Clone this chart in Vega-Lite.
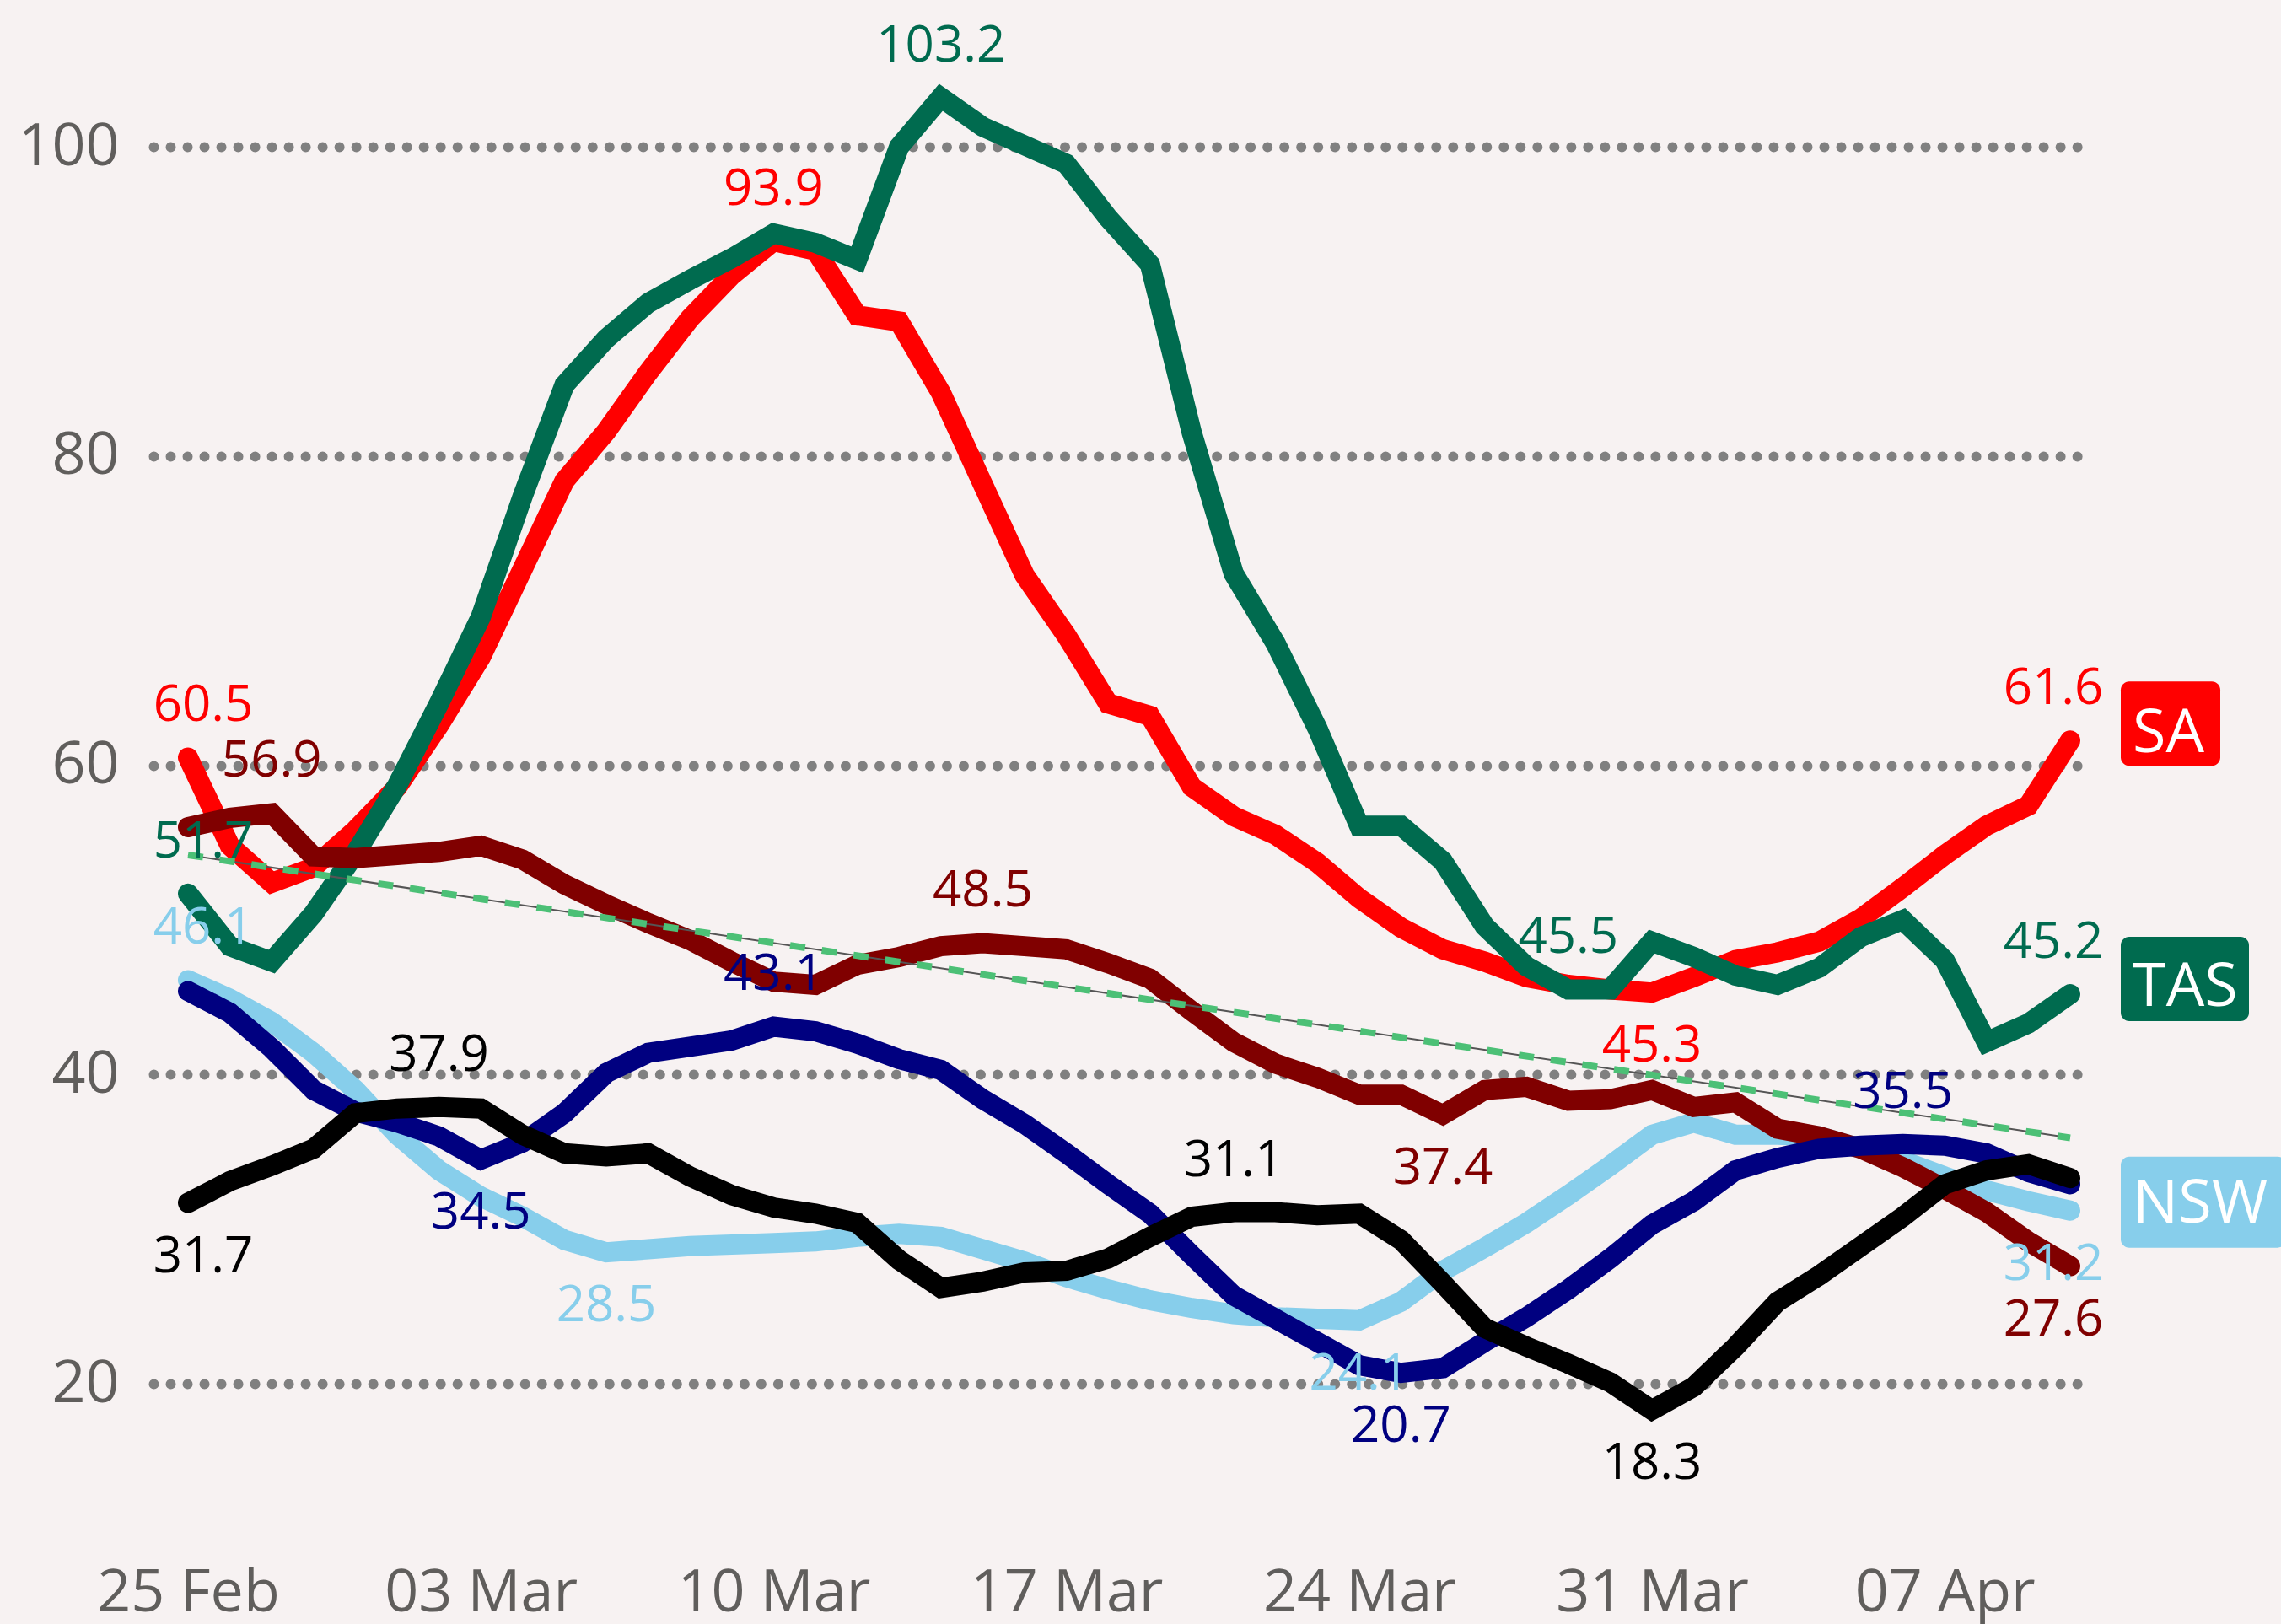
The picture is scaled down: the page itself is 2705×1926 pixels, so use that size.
{
  "$schema": "https://vega.github.io/schema/vega-lite/v6.json",
  "width": 2301,
  "height": 1760,
  "autosize": "none",
  "padding": {"left": 182, "top": 40, "right": 222, "bottom": 126},
  "background": "#F7F2F2",
  "config": {"view": {"stroke": null}, "font": "Open Sans", "text": {"font": "Open Sans"}},
  "datasets": {
    "series": [
      {"s":"SA","d":"2024-02-25","v":60.5},{"s":"SA","d":"2024-02-26","v":54.8},{"s":"SA","d":"2024-02-27","v":52.4},{"s":"SA","d":"2024-02-28","v":53.4},{"s":"SA","d":"2024-02-29","v":55.8},{"s":"SA","d":"2024-03-01","v":58.6},{"s":"SA","d":"2024-03-02","v":62.6},{"s":"SA","d":"2024-03-03","v":67.0},{"s":"SA","d":"2024-03-04","v":72.7},{"s":"SA","d":"2024-03-05","v":78.4},{"s":"SA","d":"2024-03-06","v":81.6},{"s":"SA","d":"2024-03-07","v":85.4},{"s":"SA","d":"2024-03-08","v":88.9},{"s":"SA","d":"2024-03-09","v":91.7},{"s":"SA","d":"2024-03-10","v":93.9},{"s":"SA","d":"2024-03-11","v":93.3},{"s":"SA","d":"2024-03-12","v":89.1},{"s":"SA","d":"2024-03-13","v":88.7},{"s":"SA","d":"2024-03-14","v":84.1},{"s":"SA","d":"2024-03-15","v":78.2},{"s":"SA","d":"2024-03-16","v":72.3},{"s":"SA","d":"2024-03-17","v":68.4},{"s":"SA","d":"2024-03-18","v":64.0},{"s":"SA","d":"2024-03-19","v":63.2},{"s":"SA","d":"2024-03-20","v":58.6},{"s":"SA","d":"2024-03-21","v":56.7},{"s":"SA","d":"2024-03-22","v":55.5},{"s":"SA","d":"2024-03-23","v":53.7},{"s":"SA","d":"2024-03-24","v":51.4},{"s":"SA","d":"2024-03-25","v":49.5},{"s":"SA","d":"2024-03-26","v":48.1},{"s":"SA","d":"2024-03-27","v":47.3},{"s":"SA","d":"2024-03-28","v":46.3},{"s":"SA","d":"2024-03-29","v":45.8},{"s":"SA","d":"2024-03-30","v":45.5},{"s":"SA","d":"2024-03-31","v":45.3},{"s":"SA","d":"2024-04-01","v":46.3},{"s":"SA","d":"2024-04-02","v":47.4},{"s":"SA","d":"2024-04-03","v":47.9},{"s":"SA","d":"2024-04-04","v":48.6},{"s":"SA","d":"2024-04-05","v":50.1},{"s":"SA","d":"2024-04-06","v":52.1},{"s":"SA","d":"2024-04-07","v":54.2},{"s":"SA","d":"2024-04-08","v":56.1},{"s":"SA","d":"2024-04-09","v":57.4},{"s":"SA","d":"2024-04-10","v":61.6},
      {"s":"TAS","d":"2024-02-25","v":51.7},{"s":"TAS","d":"2024-02-26","v":48.3},{"s":"TAS","d":"2024-02-27","v":47.3},{"s":"TAS","d":"2024-02-28","v":50.4},{"s":"TAS","d":"2024-02-29","v":54.3},{"s":"TAS","d":"2024-03-01","v":58.7},{"s":"TAS","d":"2024-03-02","v":64.0},{"s":"TAS","d":"2024-03-03","v":69.6},{"s":"TAS","d":"2024-03-04","v":77.4},{"s":"TAS","d":"2024-03-05","v":84.6},{"s":"TAS","d":"2024-03-06","v":87.6},{"s":"TAS","d":"2024-03-07","v":89.9},{"s":"TAS","d":"2024-03-08","v":91.4},{"s":"TAS","d":"2024-03-09","v":92.8},{"s":"TAS","d":"2024-03-10","v":94.4},{"s":"TAS","d":"2024-03-11","v":93.8},{"s":"TAS","d":"2024-03-12","v":92.7},{"s":"TAS","d":"2024-03-13","v":100.0},{"s":"TAS","d":"2024-03-14","v":103.2},{"s":"TAS","d":"2024-03-15","v":101.3},{"s":"TAS","d":"2024-03-16","v":100.1},{"s":"TAS","d":"2024-03-17","v":98.9},{"s":"TAS","d":"2024-03-18","v":95.4},{"s":"TAS","d":"2024-03-19","v":92.4},{"s":"TAS","d":"2024-03-20","v":81.5},{"s":"TAS","d":"2024-03-21","v":72.4},{"s":"TAS","d":"2024-03-22","v":67.9},{"s":"TAS","d":"2024-03-23","v":62.4},{"s":"TAS","d":"2024-03-24","v":56.1},{"s":"TAS","d":"2024-03-25","v":56.1},{"s":"TAS","d":"2024-03-26","v":53.8},{"s":"TAS","d":"2024-03-27","v":49.6},{"s":"TAS","d":"2024-03-28","v":47.0},{"s":"TAS","d":"2024-03-29","v":45.5},{"s":"TAS","d":"2024-03-30","v":45.5},{"s":"TAS","d":"2024-03-31","v":48.6},{"s":"TAS","d":"2024-04-01","v":47.6},{"s":"TAS","d":"2024-04-02","v":46.4},{"s":"TAS","d":"2024-04-03","v":45.8},{"s":"TAS","d":"2024-04-04","v":46.9},{"s":"TAS","d":"2024-04-05","v":48.9},{"s":"TAS","d":"2024-04-06","v":50.0},{"s":"TAS","d":"2024-04-07","v":47.4},{"s":"TAS","d":"2024-04-08","v":42.1},{"s":"TAS","d":"2024-04-09","v":43.3},{"s":"TAS","d":"2024-04-10","v":45.2},
      {"s":"NSW","d":"2024-02-25","v":46.1},{"s":"NSW","d":"2024-02-26","v":44.9},{"s":"NSW","d":"2024-02-27","v":43.4},{"s":"NSW","d":"2024-02-28","v":41.4},{"s":"NSW","d":"2024-02-29","v":39.0},{"s":"NSW","d":"2024-03-01","v":36.1},{"s":"NSW","d":"2024-03-02","v":33.8},{"s":"NSW","d":"2024-03-03","v":32.1},{"s":"NSW","d":"2024-03-04","v":30.8},{"s":"NSW","d":"2024-03-05","v":29.3},{"s":"NSW","d":"2024-03-06","v":28.5},{"s":"NSW","d":"2024-03-07","v":28.7},{"s":"NSW","d":"2024-03-08","v":28.9},{"s":"NSW","d":"2024-03-09","v":29.0},{"s":"NSW","d":"2024-03-10","v":29.1},{"s":"NSW","d":"2024-03-11","v":29.2},{"s":"NSW","d":"2024-03-12","v":29.5},{"s":"NSW","d":"2024-03-13","v":29.7},{"s":"NSW","d":"2024-03-14","v":29.5},{"s":"NSW","d":"2024-03-15","v":28.7},{"s":"NSW","d":"2024-03-16","v":27.9},{"s":"NSW","d":"2024-03-17","v":26.9},{"s":"NSW","d":"2024-03-18","v":26.1},{"s":"NSW","d":"2024-03-19","v":25.4},{"s":"NSW","d":"2024-03-20","v":24.9},{"s":"NSW","d":"2024-03-21","v":24.5},{"s":"NSW","d":"2024-03-22","v":24.3},{"s":"NSW","d":"2024-03-23","v":24.2},{"s":"NSW","d":"2024-03-24","v":24.1},{"s":"NSW","d":"2024-03-25","v":25.3},{"s":"NSW","d":"2024-03-26","v":27.3},{"s":"NSW","d":"2024-03-27","v":28.8},{"s":"NSW","d":"2024-03-28","v":30.4},{"s":"NSW","d":"2024-03-29","v":32.2},{"s":"NSW","d":"2024-03-30","v":34.1},{"s":"NSW","d":"2024-03-31","v":36.1},{"s":"NSW","d":"2024-04-01","v":36.9},{"s":"NSW","d":"2024-04-02","v":36.1},{"s":"NSW","d":"2024-04-03","v":36.1},{"s":"NSW","d":"2024-04-04","v":36.0},{"s":"NSW","d":"2024-04-05","v":35.2},{"s":"NSW","d":"2024-04-06","v":34.4},{"s":"NSW","d":"2024-04-07","v":33.4},{"s":"NSW","d":"2024-04-08","v":32.5},{"s":"NSW","d":"2024-04-09","v":31.8},{"s":"NSW","d":"2024-04-10","v":31.2},
      {"s":"QLD","d":"2024-02-25","v":56.0},{"s":"QLD","d":"2024-02-26","v":56.6},{"s":"QLD","d":"2024-02-27","v":56.9},{"s":"QLD","d":"2024-02-28","v":54.1},{"s":"QLD","d":"2024-02-29","v":54.0},{"s":"QLD","d":"2024-03-01","v":54.2},{"s":"QLD","d":"2024-03-02","v":54.4},{"s":"QLD","d":"2024-03-03","v":54.8},{"s":"QLD","d":"2024-03-04","v":53.9},{"s":"QLD","d":"2024-03-05","v":52.3},{"s":"QLD","d":"2024-03-06","v":51.0},{"s":"QLD","d":"2024-03-07","v":49.8},{"s":"QLD","d":"2024-03-08","v":48.7},{"s":"QLD","d":"2024-03-09","v":47.3},{"s":"QLD","d":"2024-03-10","v":46.0},{"s":"QLD","d":"2024-03-11","v":45.8},{"s":"QLD","d":"2024-03-12","v":47.1},{"s":"QLD","d":"2024-03-13","v":47.6},{"s":"QLD","d":"2024-03-14","v":48.3},{"s":"QLD","d":"2024-03-15","v":48.5},{"s":"QLD","d":"2024-03-16","v":48.3},{"s":"QLD","d":"2024-03-17","v":48.1},{"s":"QLD","d":"2024-03-18","v":47.2},{"s":"QLD","d":"2024-03-19","v":46.2},{"s":"QLD","d":"2024-03-20","v":44.1},{"s":"QLD","d":"2024-03-21","v":42.1},{"s":"QLD","d":"2024-03-22","v":40.7},{"s":"QLD","d":"2024-03-23","v":39.8},{"s":"QLD","d":"2024-03-24","v":38.7},{"s":"QLD","d":"2024-03-25","v":38.7},{"s":"QLD","d":"2024-03-26","v":37.4},{"s":"QLD","d":"2024-03-27","v":39.0},{"s":"QLD","d":"2024-03-28","v":39.2},{"s":"QLD","d":"2024-03-29","v":38.3},{"s":"QLD","d":"2024-03-30","v":38.4},{"s":"QLD","d":"2024-03-31","v":39.0},{"s":"QLD","d":"2024-04-01","v":37.9},{"s":"QLD","d":"2024-04-02","v":38.2},{"s":"QLD","d":"2024-04-03","v":36.5},{"s":"QLD","d":"2024-04-04","v":36.0},{"s":"QLD","d":"2024-04-05","v":35.2},{"s":"QLD","d":"2024-04-06","v":34.0},{"s":"QLD","d":"2024-04-07","v":32.6},{"s":"QLD","d":"2024-04-08","v":31.1},{"s":"QLD","d":"2024-04-09","v":29.2},{"s":"QLD","d":"2024-04-10","v":27.6},
      {"s":"VIC","d":"2024-02-25","v":45.4},{"s":"VIC","d":"2024-02-26","v":44.0},{"s":"VIC","d":"2024-02-27","v":41.7},{"s":"VIC","d":"2024-02-28","v":39.0},{"s":"VIC","d":"2024-02-29","v":37.6},{"s":"VIC","d":"2024-03-01","v":36.9},{"s":"VIC","d":"2024-03-02","v":36.0},{"s":"VIC","d":"2024-03-03","v":34.5},{"s":"VIC","d":"2024-03-04","v":35.6},{"s":"VIC","d":"2024-03-05","v":37.5},{"s":"VIC","d":"2024-03-06","v":40.1},{"s":"VIC","d":"2024-03-07","v":41.4},{"s":"VIC","d":"2024-03-08","v":41.8},{"s":"VIC","d":"2024-03-09","v":42.2},{"s":"VIC","d":"2024-03-10","v":43.1},{"s":"VIC","d":"2024-03-11","v":42.8},{"s":"VIC","d":"2024-03-12","v":42.0},{"s":"VIC","d":"2024-03-13","v":41.0},{"s":"VIC","d":"2024-03-14","v":40.3},{"s":"VIC","d":"2024-03-15","v":38.4},{"s":"VIC","d":"2024-03-16","v":36.8},{"s":"VIC","d":"2024-03-17","v":34.9},{"s":"VIC","d":"2024-03-18","v":32.9},{"s":"VIC","d":"2024-03-19","v":31.0},{"s":"VIC","d":"2024-03-20","v":28.3},{"s":"VIC","d":"2024-03-21","v":25.7},{"s":"VIC","d":"2024-03-22","v":24.2},{"s":"VIC","d":"2024-03-23","v":22.7},{"s":"VIC","d":"2024-03-24","v":21.2},{"s":"VIC","d":"2024-03-25","v":20.7},{"s":"VIC","d":"2024-03-26","v":21.0},{"s":"VIC","d":"2024-03-27","v":22.7},{"s":"VIC","d":"2024-03-28","v":24.3},{"s":"VIC","d":"2024-03-29","v":26.1},{"s":"VIC","d":"2024-03-30","v":28.1},{"s":"VIC","d":"2024-03-31","v":30.3},{"s":"VIC","d":"2024-04-01","v":31.8},{"s":"VIC","d":"2024-04-02","v":33.8},{"s":"VIC","d":"2024-04-03","v":34.6},{"s":"VIC","d":"2024-04-04","v":35.2},{"s":"VIC","d":"2024-04-05","v":35.4},{"s":"VIC","d":"2024-04-06","v":35.5},{"s":"VIC","d":"2024-04-07","v":35.4},{"s":"VIC","d":"2024-04-08","v":34.9},{"s":"VIC","d":"2024-04-09","v":33.7},{"s":"VIC","d":"2024-04-10","v":32.9},
      {"s":"WA","d":"2024-02-25","v":31.7},{"s":"WA","d":"2024-02-26","v":33.1},{"s":"WA","d":"2024-02-27","v":34.1},{"s":"WA","d":"2024-02-28","v":35.2},{"s":"WA","d":"2024-02-29","v":37.5},{"s":"WA","d":"2024-03-01","v":37.8},{"s":"WA","d":"2024-03-02","v":37.9},{"s":"WA","d":"2024-03-03","v":37.8},{"s":"WA","d":"2024-03-04","v":36.1},{"s":"WA","d":"2024-03-05","v":34.9},{"s":"WA","d":"2024-03-06","v":34.7},{"s":"WA","d":"2024-03-07","v":34.9},{"s":"WA","d":"2024-03-08","v":33.4},{"s":"WA","d":"2024-03-09","v":32.2},{"s":"WA","d":"2024-03-10","v":31.4},{"s":"WA","d":"2024-03-11","v":31.0},{"s":"WA","d":"2024-03-12","v":30.4},{"s":"WA","d":"2024-03-13","v":28.0},{"s":"WA","d":"2024-03-14","v":26.2},{"s":"WA","d":"2024-03-15","v":26.6},{"s":"WA","d":"2024-03-16","v":27.2},{"s":"WA","d":"2024-03-17","v":27.3},{"s":"WA","d":"2024-03-18","v":28.1},{"s":"WA","d":"2024-03-19","v":29.5},{"s":"WA","d":"2024-03-20","v":30.8},{"s":"WA","d":"2024-03-21","v":31.1},{"s":"WA","d":"2024-03-22","v":31.1},{"s":"WA","d":"2024-03-23","v":30.9},{"s":"WA","d":"2024-03-24","v":31.0},{"s":"WA","d":"2024-03-25","v":29.3},{"s":"WA","d":"2024-03-26","v":26.5},{"s":"WA","d":"2024-03-27","v":23.6},{"s":"WA","d":"2024-03-28","v":22.4},{"s":"WA","d":"2024-03-29","v":21.3},{"s":"WA","d":"2024-03-30","v":20.1},{"s":"WA","d":"2024-03-31","v":18.3},{"s":"WA","d":"2024-04-01","v":19.8},{"s":"WA","d":"2024-04-02","v":22.4},{"s":"WA","d":"2024-04-03","v":25.3},{"s":"WA","d":"2024-04-04","v":27.0},{"s":"WA","d":"2024-04-05","v":28.9},{"s":"WA","d":"2024-04-06","v":30.8},{"s":"WA","d":"2024-04-07","v":32.9},{"s":"WA","d":"2024-04-08","v":33.8},{"s":"WA","d":"2024-04-09","v":34.2},{"s":"WA","d":"2024-04-10","v":33.3}
    ],
    "trend": [
      {"d":"2024-02-25","v":54.2},
      {"d":"2024-04-10","v":35.9}
    ],
    "labels": [
      {"s":"SA","d":"2024-02-25","v":60.5,"pos":"above"},
      {"s":"SA","d":"2024-03-10","v":93.9,"pos":"above"},
      {"s":"SA","d":"2024-03-31","v":45.3,"pos":"below"},
      {"s":"SA","d":"2024-04-10","v":61.6,"pos":"above"},
      {"s":"TAS","d":"2024-02-25","v":51.7,"pos":"above"},
      {"s":"TAS","d":"2024-03-14","v":103.2,"pos":"above"},
      {"s":"TAS","d":"2024-03-29","v":45.5,"pos":"above"},
      {"s":"TAS","d":"2024-04-10","v":45.2,"pos":"above"},
      {"s":"NSW","d":"2024-02-25","v":46.1,"pos":"above"},
      {"s":"NSW","d":"2024-03-06","v":28.5,"pos":"below"},
      {"s":"NSW","d":"2024-03-24","v":24.1,"pos":"below"},
      {"s":"NSW","d":"2024-04-10","v":31.2,"pos":"below"},
      {"s":"QLD","d":"2024-02-27","v":56.9,"pos":"above"},
      {"s":"QLD","d":"2024-03-15","v":48.5,"pos":"above"},
      {"s":"QLD","d":"2024-03-26","v":37.4,"pos":"below"},
      {"s":"QLD","d":"2024-04-10","v":27.6,"pos":"below"},
      {"s":"VIC","d":"2024-03-03","v":34.5,"pos":"below"},
      {"s":"VIC","d":"2024-03-10","v":43.1,"pos":"above"},
      {"s":"VIC","d":"2024-03-25","v":20.7,"pos":"below"},
      {"s":"VIC","d":"2024-04-06","v":35.5,"pos":"above"},
      {"s":"WA","d":"2024-02-25","v":31.7,"pos":"below"},
      {"s":"WA","d":"2024-03-02","v":37.9,"pos":"above"},
      {"s":"WA","d":"2024-03-21","v":31.1,"pos":"above"},
      {"s":"WA","d":"2024-03-31","v":18.3,"pos":"below"}
    ],
    "ends": [
      {"s":"SA","d":"2024-04-10","v":61.6},
      {"s":"TAS","d":"2024-04-10","v":45.2},
      {"s":"NSW","d":"2024-04-10","v":31.2}
    ]
  },
  "encoding": {
    "x": {
      "field": "d", "type": "temporal",
      "scale": {"type": "utc", "domain": [
        {"year": 2024, "month": 2, "date": 24, "hours": 4, "minutes": 10, "utc": true},
        {"year": 2024, "month": 4, "date": 10, "hours": 13, "minutes": 33, "utc": true}
      ]},
      "axis": {
        "title": null, "format": "%d %b", "tickCount": {"interval": "week", "step": 1},
        "grid": false, "domain": false, "ticks": false,
        "labelFontSize": 70, "labelColor": "#605E5C", "labelFont": "Open Sans",
        "labelPadding": 55, "labelOverlap": false, "labelFlush": false, "labelLimit": 1000
      }
    },
    "y": {
      "field": "v", "type": "quantitative",
      "scale": {"domain": [11.33, 107.32], "nice": false, "zero": false},
      "axis": {
        "title": null, "values": [20, 40, 60, 80, 100],
        "grid": true, "gridColor": "#808080", "gridWidth": 12, "gridDash": [0.01, 20], "gridCap": "round",
        "domain": false, "ticks": false,
        "labelFontSize": 70, "labelColor": "#605E5C", "labelFont": "Open Sans", "labelPadding": 41
      }
    }
  },
  "layer": [
    {
      "data": {"name": "series"},
      "mark": {"type": "line", "strokeWidth": 24, "strokeCap": "round"},
      "encoding": {
        "color": {"field": "s", "type": "nominal",
          "scale": {"domain": ["NSW", "QLD", "SA", "TAS", "VIC", "WA"],
                    "range": ["#87CEEB", "#800000", "#FF0000", "#006B4F", "#000080", "#000000"]},
          "legend": null},
        "detail": {"field": "s"}
      }
    },
    {
      "data": {"name": "trend"},
      "mark": {"type": "line", "color": "#555555", "strokeWidth": 2},
      "encoding": {}
    },
    {
      "data": {"name": "trend"},
      "mark": {"type": "line", "color": "#4CC076", "strokeWidth": 8, "strokeDash": [18, 20]},
      "encoding": {}
    },
    {
      "data": {"name": "labels"},
      "transform": [{"filter": "datum.pos == 'above' && time(datum.d) != time('2024-02-25') && time(datum.d) != time('2024-04-10')"}],
      "mark": {"type": "text", "fontSize": 60, "align": "center", "baseline": "alphabetic", "dy": -43},
      "encoding": {"text": {"field": "v", "type": "quantitative", "format": ".1f"}, "color": {"field": "s", "type": "nominal", "legend": null}}
    },
    {
      "data": {"name": "labels"},
      "transform": [{"filter": "datum.pos == 'below' && time(datum.d) != time('2024-02-25') && time(datum.d) != time('2024-04-10')"}],
      "mark": {"type": "text", "fontSize": 60, "align": "center", "baseline": "alphabetic", "dy": 82},
      "encoding": {"text": {"field": "v", "type": "quantitative", "format": ".1f"}, "color": {"field": "s", "type": "nominal", "legend": null}}
    },
    {
      "data": {"name": "labels"},
      "transform": [{"filter": "datum.pos == 'above' && time(datum.d) == time('2024-02-25')"}],
      "mark": {"type": "text", "fontSize": 60, "align": "center", "baseline": "alphabetic", "dy": -43, "dx": 18},
      "encoding": {"text": {"field": "v", "type": "quantitative", "format": ".1f"}, "color": {"field": "s", "type": "nominal", "legend": null}}
    },
    {
      "data": {"name": "labels"},
      "transform": [{"filter": "datum.pos == 'below' && time(datum.d) == time('2024-02-25')"}],
      "mark": {"type": "text", "fontSize": 60, "align": "center", "baseline": "alphabetic", "dy": 82, "dx": 18},
      "encoding": {"text": {"field": "v", "type": "quantitative", "format": ".1f"}, "color": {"field": "s", "type": "nominal", "legend": null}}
    },
    {
      "data": {"name": "labels"},
      "transform": [{"filter": "datum.pos == 'above' && time(datum.d) == time('2024-04-10')"}],
      "mark": {"type": "text", "fontSize": 60, "align": "center", "baseline": "alphabetic", "dy": -43, "dx": -20},
      "encoding": {"text": {"field": "v", "type": "quantitative", "format": ".1f"}, "color": {"field": "s", "type": "nominal", "legend": null}}
    },
    {
      "data": {"name": "labels"},
      "transform": [{"filter": "datum.pos == 'below' && time(datum.d) == time('2024-04-10')"}],
      "mark": {"type": "text", "fontSize": 60, "align": "center", "baseline": "alphabetic", "dy": 82, "dx": -20},
      "encoding": {"text": {"field": "v", "type": "quantitative", "format": ".1f"}, "color": {"field": "s", "type": "nominal", "legend": null}}
    },
    {
      "data": {"name": "ends"},
      "transform": [{"filter": "datum.s == 'SA'"}],
      "mark": {"type": "rect", "width": 118, "height": 100, "align": "left", "baseline": "middle", "xOffset": 60, "yOffset": -20, "cornerRadius": 10, "color": "#FF0000"},
      "encoding": {}
    },
    {
      "data": {"name": "ends"},
      "transform": [{"filter": "datum.s == 'TAS'"}],
      "mark": {"type": "rect", "width": 152, "height": 100, "align": "left", "baseline": "middle", "xOffset": 60, "yOffset": -18, "cornerRadius": 10, "color": "#006B4F"},
      "encoding": {}
    },
    {
      "data": {"name": "ends"},
      "transform": [{"filter": "datum.s == 'NSW'"}],
      "mark": {"type": "rect", "width": 196, "height": 108, "align": "left", "baseline": "middle", "xOffset": 60, "yOffset": -10, "cornerRadius": 10, "color": "#87CEEB"},
      "encoding": {}
    },
    {
      "data": {"name": "ends"},
      "mark": {"type": "text", "fontSize": 72, "align": "left", "baseline": "alphabetic", "dx": 74, "dy": 14, "color": "#FFFFFF"},
      "encoding": {"text": {"field": "s"}}
    }
  ]
}
